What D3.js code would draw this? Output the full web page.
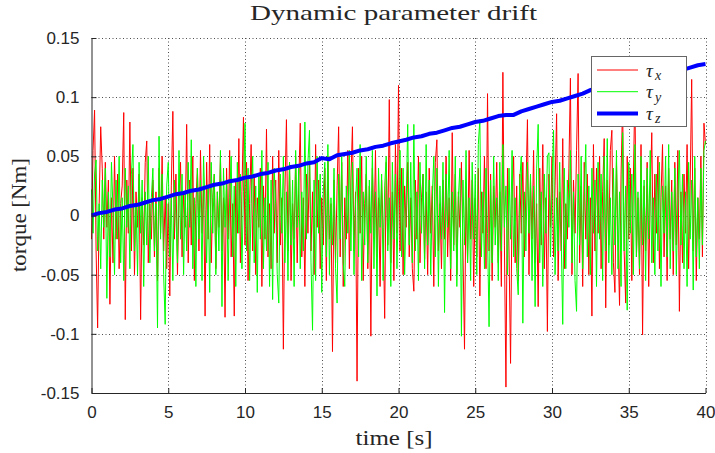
<!DOCTYPE html>
<html>
<head>
<meta charset="utf-8">
<script src="https://cdn.jsdelivr.net/npm/d3@7/dist/d3.min.js"></script>
<style>
  body { margin: 0; background: #fff; }
  text { fill: #262626; }
</style>
</head>
<body>
<svg id="chart" width="715" height="453"></svg>
<script>
// tau_x [Nm], one value every 0.1 s
const tauX = [
  -0.020, 0.055, 0.089, -0.030, -0.095, 0.010, 0.075, 0.040, -0.020, 0.045,
  -0.010, 0.030, -0.075, 0.015, -0.040, 0.050, -0.020, 0.035, -0.045, 0.010,
  0.025, 0.087, -0.088, 0.030, -0.015, 0.079, -0.030, 0.040, -0.050, 0.020,
  -0.010, 0.035, -0.088, 0.015, -0.025, 0.045, 0.063, -0.040, 0.010, -0.020,
  0.030, -0.035, 0.020, -0.055, 0.040, -0.015, 0.050, -0.030, 0.015, -0.045,
  0.010, -0.068, 0.025, 0.088, -0.020, 0.035, -0.050, 0.015, 0.045, -0.035,
  0.020, -0.010, 0.077, -0.040, 0.030, -0.025, 0.050, -0.055, 0.010, 0.040,
  -0.030, 0.055, -0.015, 0.025, -0.085, 0.045, -0.020, 0.060, -0.040, 0.015,
  0.035, -0.045, 0.020, -0.010, 0.050, -0.030, 0.015, -0.086, 0.040, -0.020,
  0.055, -0.035, 0.010, -0.085, 0.030, -0.015, 0.065, -0.040, 0.020, 0.083,
  -0.025, 0.045, -0.055, 0.010, 0.060, -0.030, 0.035, -0.050, 0.015, -0.010,
  0.040, -0.060, 0.025, -0.020, 0.073, -0.035, 0.010, -0.045, 0.050, -0.015,
  0.030, -0.040, 0.055, -0.025, 0.015, -0.113, 0.020, 0.081, -0.030, 0.045,
  -0.055, 0.010, -0.020, 0.050, -0.040, 0.025, 0.078, -0.035, 0.015, -0.060,
  0.035, -0.015, 0.045, -0.030, 0.020, -0.050, 0.060, -0.010, 0.030, -0.045,
  0.015, -0.025, 0.040, -0.055, 0.050, -0.020, 0.010, -0.115, 0.030, -0.040,
  0.025, 0.075, -0.035, 0.045, -0.060, 0.015, -0.020, 0.055, -0.045, 0.030,
  0.075, -0.030, 0.020, -0.140, 0.040, -0.015, 0.050, -0.055, 0.010, 0.035,
  -0.045, 0.025, -0.102, 0.040, -0.020, 0.055, -0.035, 0.015, -0.060, 0.030,
  -0.010, -0.087, 0.045, -0.025, 0.098, -0.040, 0.020, -0.055, 0.060, -0.015,
  0.110, -0.030, 0.040, -0.050, 0.025, -0.010, 0.045, -0.035, 0.015, -0.045,
  -0.064, 0.030, -0.020, 0.050, -0.040, 0.015, 0.035, -0.037, 0.020, -0.050,
  0.040, -0.015, 0.025, -0.060, 0.045, 0.064, -0.030, 0.010, -0.045, 0.030,
  -0.020, 0.050, -0.035, 0.015, -0.055, 0.070, -0.025, 0.035, -0.050, 0.020,
  -0.010, 0.045, -0.030, -0.113, 0.025, -0.040, 0.055, -0.020, 0.030, -0.060,
  0.015, -0.035, 0.040, -0.068, 0.020, -0.015, 0.050, -0.045, 0.103, -0.030,
  0.035, -0.055, 0.025, -0.010, 0.045, -0.040, 0.020, -0.060, 0.121, -0.025,
  -0.145, 0.040, -0.030, -0.125, 0.015, 0.050, -0.040, 0.025, -0.055, 0.035,
  -0.015, 0.045, -0.035, 0.020, 0.081, -0.050, 0.030, -0.020, 0.055, -0.040,
  0.010, -0.077, 0.040, -0.025, 0.060, -0.045, 0.015, -0.098, 0.035, -0.010,
  0.050, -0.035, 0.025, 0.086, -0.055, 0.020, -0.030, 0.065, -0.045, 0.010,
  -0.020, 0.040, 0.116, -0.050, 0.030, -0.015, 0.055, 0.120, -0.040, 0.025,
  -0.060, 0.045, -0.020, 0.035, -0.050, 0.015, -0.085, 0.060, -0.030, 0.040,
  -0.015, 0.050, -0.045, 0.020, 0.065, -0.078, 0.030, -0.025, 0.055, 0.072,
  -0.040, -0.065, 0.045, -0.020, -0.076, 0.035, 0.095, -0.030, -0.074, 0.050,
  -0.020, 0.040, -0.055, 0.030, 0.105, -0.035, 0.015, -0.050, 0.060, -0.101,
  0.025, -0.030, 0.045, -0.060, 0.020, 0.070, -0.040, 0.035, -0.015, 0.050,
  -0.045, 0.015, 0.060, -0.035, 0.025, -0.055, 0.040, -0.020, 0.030, -0.050,
  0.045, -0.025, 0.055, -0.081, 0.020, -0.040, 0.035, -0.015, 0.060, -0.045,
  0.025, 0.115, -0.030, 0.040, -0.055, 0.015, -0.020, 0.050, -0.035, 0.078,
  0.060
]
// tau_y [Nm], one value every 0.1 s
const tauY = [
  0.022, -0.015, 0.035, 0.047, -0.030, 0.010, -0.045, 0.030, -0.010, 0.040,
  -0.070, 0.020, -0.035, 0.045, 0.005, -0.050, 0.030, -0.020, 0.050, -0.040,
  0.015, -0.055, 0.040, -0.010, 0.025, -0.045, 0.035, 0.060, -0.030, 0.010,
  -0.050, 0.045, -0.015, 0.030, -0.060, 0.020, -0.025, 0.050, -0.040, 0.015,
  0.040, -0.030, 0.010, -0.095, 0.067, -0.020, 0.035, -0.050, -0.092, 0.025,
  0.045, -0.035, 0.015, -0.055, 0.030, 0.000, -0.040, 0.055, -0.020, 0.035,
  -0.050, 0.020, -0.030, 0.045, -0.010, 0.064, -0.045, 0.015, -0.060, 0.040,
  -0.020, 0.030, -0.055, 0.050, 0.005, -0.040, 0.025, -0.065, 0.045, -0.015,
  0.035, -0.050, 0.020, -0.030, 0.055, -0.077, 0.040, -0.010, 0.030, -0.055,
  0.015, 0.050, -0.035, 0.025, -0.060, 0.045, -0.015, 0.035, -0.045, 0.020,
  0.078, -0.030, 0.040, -0.055, 0.010, 0.050, -0.040, 0.025, -0.065, 0.035,
  -0.020, 0.055, -0.045, 0.015, -0.030, 0.045, -0.060, 0.030, -0.071, 0.040,
  0.010, -0.050, -0.074, 0.035, -0.015, 0.050, -0.040, 0.020, -0.055, 0.045,
  -0.025, 0.030, -0.060, 0.055, -0.010, 0.040, -0.045, 0.020, -0.030, 0.079,
  -0.020, 0.045, 0.072, -0.040, -0.097, 0.030, -0.055, 0.050, -0.015, 0.035,
  -0.065, 0.020, 0.045, -0.035, 0.060, -0.050, 0.015, -0.025, 0.040, -0.045,
  -0.074, 0.035, -0.020, 0.050, -0.040, -0.060, 0.025, -0.015, 0.055, -0.030,
  0.045, -0.050, 0.010, 0.040, -0.035, 0.060, -0.055, 0.020, -0.025, 0.050,
  -0.040, 0.030, -0.015, 0.055, -0.045, 0.020, -0.068, 0.040, -0.010, 0.035,
  -0.055, 0.025, 0.050, -0.030, 0.015, -0.060, 0.045, -0.020, 0.035, -0.045,
  0.020, 0.055, -0.035, 0.040, -0.050, 0.010, 0.077, -0.025, 0.045, -0.040,
  0.077, -0.030, 0.020, -0.055, 0.045, -0.015, 0.035, -0.045, 0.060, -0.025,
  0.030, -0.050, 0.015, 0.050, -0.035, 0.040, -0.060, 0.025, -0.020, 0.045,
  -0.082, 0.035, -0.010, 0.055, -0.045, 0.020, -0.030, 0.050, -0.060, 0.015,
  0.040, -0.102, 0.030, -0.025, 0.055, -0.040, 0.015, -0.055, 0.045, -0.020,
  0.035, -0.050, 0.060, 0.081, -0.035, 0.020, -0.045, 0.040, -0.015, -0.094,
  0.030, -0.040, 0.050, -0.025, 0.015, -0.055, 0.045, -0.030, 0.060, -0.010,
  0.025, -0.050, 0.040, -0.020, 0.055, -0.035, 0.015, -0.045, -0.067, 0.030,
  0.050, -0.091, 0.020, -0.030, 0.045, -0.015, 0.035, -0.055, 0.025, -0.077,
  0.040, 0.077, -0.040, 0.020, -0.060, 0.035, -0.015, 0.050, 0.053, -0.035,
  0.025, 0.072, -0.050, 0.015, -0.030, 0.045, -0.020, -0.092, 0.040, -0.045,
  0.030, -0.010, 0.055, -0.040, 0.020, -0.055, -0.081, 0.035, -0.025, 0.050,
  -0.045, 0.015, 0.060, -0.035, 0.025, -0.050, 0.040, -0.015, 0.030, -0.060,
  0.045, -0.020, 0.035, -0.055, 0.050, -0.030, 0.065, -0.040, 0.015, -0.050,
  0.040, -0.025, 0.055, -0.045, 0.020, -0.060, 0.070, -0.030, 0.025, -0.080,
  0.045, -0.015, 0.035, -0.050, 0.060, -0.035, 0.020, -0.045, 0.050, -0.025,
  0.030, -0.055, 0.040, -0.020, 0.055, -0.040, 0.015, -0.050, 0.035, -0.030,
  0.045, -0.060, 0.025, -0.015, 0.050, -0.035, 0.060, -0.045, 0.020, -0.030,
  0.040, -0.050, 0.015, 0.055, -0.025, 0.035, -0.045, 0.020, -0.060, 0.045,
  -0.020, 0.030, -0.063, 0.050, -0.035, 0.015, -0.045, 0.040, -0.025, 0.055,
  0.063
]
// tau_z [Nm], one value every 0.5 s
const tauZ = [
  0.000, 0.002, 0.003, 0.005, 0.006, 0.008, 0.009, 0.011, 0.013, 0.014,
  0.016, 0.018, 0.019, 0.021, 0.022, 0.024, 0.026, 0.027, 0.029, 0.030,
  0.032, 0.033, 0.035, 0.036, 0.038, 0.039, 0.041, 0.042, 0.044, 0.045,
  0.0485, 0.0475, 0.051, 0.052, 0.053, 0.055, 0.056, 0.058, 0.059, 0.061,
  0.0625, 0.064, 0.066, 0.067, 0.069, 0.070, 0.072, 0.074, 0.075, 0.077,
  0.079, 0.080, 0.082, 0.084, 0.085, 0.085, 0.088, 0.090, 0.092, 0.094,
  0.096, 0.097, 0.099, 0.101, 0.103, 0.106, 0.107, 0.109, 0.110, 0.112,
  0.113, 0.115, 0.116, 0.117, 0.119, 0.120, 0.121, 0.123, 0.125, 0.127,
  0.128
]
const stepXY = 0.1
const stepZ = 0.5

const xTicks = [0, 5, 10, 15, 20, 25, 30, 35, 40]
const yTicks = [-0.15, -0.1, -0.05, 0, 0.05, 0.1, 0.15]
const yTickLabels = ['-0.15', '-0.1', '-0.05', '0', '0.05', '0.1', '0.15']
const legendSubs = ['x', 'y', 'z']

const svg = d3.select('#chart')
const plotLeft = 91.5, plotRight = 705.5, plotTop = 38, plotBottom = 393

let x = d3.scaleLinear().domain([0, 40]).range([plotLeft, plotRight])
let y = d3.scaleLinear().domain([-0.15, 0.15]).range([plotBottom, plotTop])

svg.append('rect').attr('width', 715).attr('height', 453).attr('fill', '#fff')

// dotted grid
let grid = svg.append('g')
  .attr('stroke', '#303030')
  .attr('stroke-width', 1)
  .attr('stroke-dasharray', '1,2.5')
  .attr('opacity', 0.85)
grid.selectAll('.vgrid').data(xTicks.slice(1))
  .join('line')
  .attr('class', 'vgrid')
  .attr('x1', d => Math.round(x(d)) + 0.5).attr('x2', d => Math.round(x(d)) + 0.5)
  .attr('y1', plotTop).attr('y2', plotBottom)
grid.selectAll('.hgrid').data(yTicks.slice(1))
  .join('line')
  .attr('class', 'hgrid')
  .attr('y1', d => Math.round(y(d)) + 0.5).attr('y2', d => Math.round(y(d)) + 0.5)
  .attr('x1', plotLeft).attr('x2', plotRight)

// the three torque traces
let lineXY = d3.line().x((d, i) => x(i * stepXY)).y(d => y(d))
let lineZ = d3.line().x((d, i) => x(i * stepZ)).y(d => y(d))

svg.append('path').attr('d', lineXY(tauX))
  .attr('fill', 'none').attr('stroke', '#ff0000').attr('stroke-width', 1)
svg.append('path').attr('d', lineXY(tauY))
  .attr('fill', 'none').attr('stroke', '#00ff00').attr('stroke-width', 1)
svg.append('path').attr('d', lineZ(tauZ))
  .attr('fill', 'none').attr('stroke', '#0000ff').attr('stroke-width', 4)
  .attr('stroke-linejoin', 'round')

// axes, ticks point inwards
let xAxis = d3.axisBottom(x).tickValues(xTicks).tickSizeInner(-5).tickSizeOuter(0).tickPadding(13)
let yAxis = d3.axisLeft(y).tickValues(yTicks).tickSizeInner(-5).tickSizeOuter(0).tickPadding(12)
  .tickFormat((d, i) => yTickLabels[i])

let gx = svg.append('g').attr('transform', `translate(0,${plotBottom})`).call(xAxis)
let gy = svg.append('g').attr('transform', `translate(${plotLeft},0)`).call(yAxis)
;[gx, gy].forEach(g => {
  g.selectAll('path,line').attr('stroke', '#262626')
  g.selectAll('text').attr('fill', '#262626')
    .style('font-family', '"Liberation Sans", Arial, sans-serif').style('font-size', '17px')
})

// titles
const serif = '"Liberation Serif", "Times New Roman", serif'
svg.append('text').text('Dynamic parameter drift')
  .attr('x', 393.5).attr('y', 20).attr('text-anchor', 'middle')
  .attr('textLength', 287).attr('lengthAdjust', 'spacingAndGlyphs')
  .style('font-family', serif).style('font-size', '21px')
svg.append('text').text('time [s]')
  .attr('x', 394).attr('y', 445).attr('text-anchor', 'middle')
  .attr('textLength', 77).attr('lengthAdjust', 'spacingAndGlyphs')
  .style('font-family', serif).style('font-size', '21px')
svg.append('text').text('torque [Nm]')
  .attr('transform', 'translate(26,215) rotate(-90)').attr('text-anchor', 'middle')
  .attr('textLength', 114).attr('lengthAdjust', 'spacingAndGlyphs')
  .style('font-family', serif).style('font-size', '21px')

// legend
let legendItems = [
  { color: '#ff0000', width: 1 },
  { color: '#00ff00', width: 1 },
  { color: '#0000ff', width: 4 }
]
let legend = svg.append('g')
legend.append('rect')
  .attr('x', 591.5).attr('y', 56.5).attr('width', 95).attr('height', 70)
  .attr('fill', '#fff').attr('stroke', '#666').attr('stroke-width', 1)
let rows = legend.selectAll('.entry').data(legendItems)
  .join('g').attr('class', 'entry')
  .attr('transform', (d, i) => `translate(0,${70 + i * 21.7})`)
rows.append('line')
  .attr('x1', 597).attr('x2', 638)
  .attr('stroke', d => d.color).attr('stroke-width', d => d.width)
// tau and its subscript as two pieces so the rows stay apart
rows.append('text').text('τ')
  .attr('x', 646).attr('y', 6.5)
  .style('font-family', serif).style('font-style', 'italic').style('font-size', '19px')
rows.append('text').text((d, i) => legendSubs[i])
  .attr('x', 655).attr('y', 10)
  .style('font-family', serif).style('font-style', 'italic').style('font-size', '14px')
</script>
</body>
</html>
